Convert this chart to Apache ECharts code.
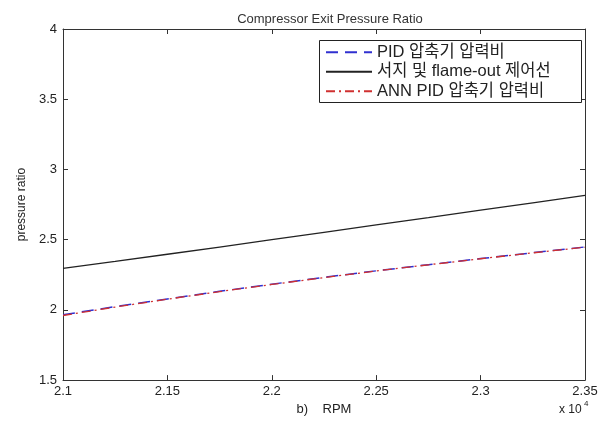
<!DOCTYPE html>
<html><head><meta charset="utf-8">
<script src="https://cdn.jsdelivr.net/npm/echarts@6/dist/echarts.min.js"></script>
<style>html,body{margin:0;padding:0;background:#fff}#c{width:611px;height:421px}</style>
</head><body><div id="c"></div>
<script>
const rpm = [2.1, 2.125, 2.15, 2.175, 2.2, 2.225, 2.25, 2.275, 2.3, 2.325, 2.35];
const pidRatio = [1.965, 2.023, 2.078, 2.132, 2.183, 2.232, 2.278, 2.322, 2.365, 2.407, 2.448];
const surgeLine = [2.295, 2.345, 2.396, 2.447, 2.5, 2.552, 2.605, 2.657, 2.71, 2.762, 2.815];
const annRatio = [1.960, 2.020, 2.076, 2.130, 2.181, 2.230, 2.277, 2.321, 2.364, 2.406, 2.446];
const xTicks = [2.1, 2.15, 2.2, 2.25, 2.3, 2.35];
const yTicks = [1.5, 2, 2.5, 3, 3.5, 4];
const seriesNames = ['PID 압축기 압력비', '서지 및 flame-out 제어선', 'ANN PID 압축기 압력비'];

const FONT = '"Liberation Sans", Arial, "Noto Sans CJK KR", sans-serif';
const pair = (xs, ys) => xs.map((x, i) => [x, ys[i]]);
const chart = echarts.init(document.getElementById('c'));
const axisCommon = {
  axisLine: {show: true, lineStyle: {color: '#333', width: 1}},
  axisTick: {show: true, inside: true, length: 5, lineStyle: {color: '#333'}},
  splitLine: {show: false}
};
chart.setOption({
  animation: false,
  textStyle: {fontFamily: FONT},
  title: {text: 'Compressor Exit Pressure Ratio', left: 325, top: 8, textAlign: 'center',
    textStyle: {fontSize: 13, fontWeight: 'normal', color: '#333', fontFamily: FONT}},
  grid: {left: 63, right: 26, top: 29, bottom: 40},
  legend: {
    orient: 'vertical', left: 319, top: 40, z: 10,
    data: seriesNames,
    itemWidth: 46, itemHeight: 10, itemGap: 3,
    padding: [4, 6, 4, 6],
    itemStyle: {opacity: 0},
    textStyle: {fontSize: 16.5, color: '#222', fontFamily: FONT}
  },
  xAxis: [
    Object.assign({type: 'value', min: 2.1, max: 2.35, interval: 0.05,
      name: 'b)    RPM', nameLocation: 'middle', nameGap: 22,
      nameTextStyle: {fontSize: 13, color: '#222'},
      axisLabel: {color: '#222', fontSize: 13, margin: 5, formatter: v => String(+v.toFixed(2))}}, axisCommon),
    Object.assign({type: 'value', position: 'top', min: 2.1, max: 2.35, interval: 0.05,
      axisLabel: {show: false}}, axisCommon)
  ],
  yAxis: [
    Object.assign({type: 'value', min: 1.5, max: 4, interval: 0.5,
      name: 'pressure ratio', nameLocation: 'middle', nameGap: 34,
      nameTextStyle: {fontSize: 12, color: '#222'},
      axisLabel: {color: '#222', fontSize: 13, margin: 6}}, axisCommon),
    Object.assign({type: 'value', position: 'right', min: 1.5, max: 4, interval: 0.5,
      axisLabel: {show: false}}, axisCommon)
  ],
  graphic: [
    {type: 'rect', z: 5, shape: {x: 319.5, y: 40.5, width: 262, height: 62},
      style: {fill: '#fff', stroke: '#222', lineWidth: 1}},
    {type: 'text', left: 559, top: 404, style: {text: 'x 10', fontSize: 12, fill: '#222', fontFamily: FONT}},
    {type: 'text', left: 584, top: 400, style: {text: '4', fontSize: 8, fill: '#222', fontFamily: FONT}}
  ],
  series: [
    {name: seriesNames[0], type: 'line', symbol: 'none', data: pair(rpm, pidRatio),
      lineStyle: {color: '#3030d0', width: 1.5, type: [12, 7]}, itemStyle: {color: '#3030d0'}},
    {name: seriesNames[1], type: 'line', symbol: 'none', data: pair(rpm, surgeLine),
      lineStyle: {color: '#222', width: 1.3}, itemStyle: {color: '#222'}},
    {name: seriesNames[2], type: 'line', symbol: 'none', data: pair(rpm, annRatio),
      lineStyle: {color: '#d03030', width: 1.3, type: [9, 4, 2, 4]}, itemStyle: {color: '#d03030'}}
  ]
});
</script></body></html>
